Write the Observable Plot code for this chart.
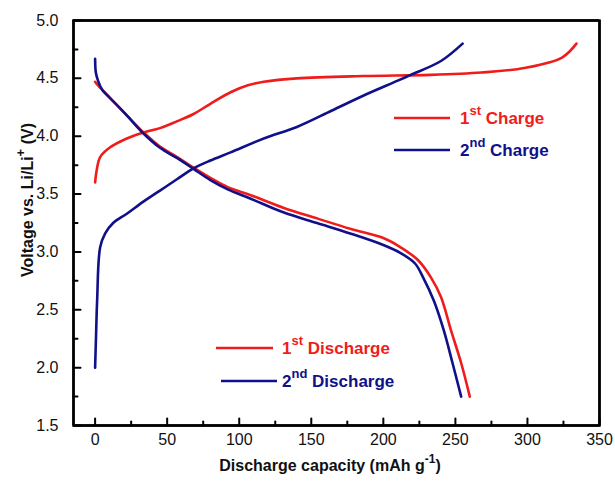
<!DOCTYPE html>
<html>
<head>
<meta charset="utf-8">
<script src="https://cdn.jsdelivr.net/npm/d3@7"></script>
<script src="https://cdn.jsdelivr.net/npm/@observablehq/plot@0.6"></script>
<style>
  html, body { margin: 0; padding: 0; background: #fff; }
  #wrap { position: relative; width: 615px; height: 483px; }
  #overlay { position: absolute; left: 0; top: 0; pointer-events: none; }
</style>
</head>
<body>
<div id="wrap"><div id="chart"></div></div>
<script>
// ---- data ----
const charge1X = [0, 1, 3.5, 10, 22, 33, 45, 57, 68, 80, 94, 106, 117, 140, 186, 233, 268, 298, 324, 334];
const charge1Y = [3.6, 3.7, 3.82, 3.90, 3.98, 4.03, 4.07, 4.13, 4.19, 4.28, 4.38, 4.44, 4.47, 4.50, 4.52, 4.53, 4.55, 4.59, 4.68, 4.80];

const charge2X = [0, 0.7, 1.4, 3.5, 7, 12.5, 22, 33, 45, 57, 68, 80, 94, 117, 140, 164, 186, 210, 219, 240, 255];
const charge2Y = [2.0, 2.3, 2.58, 3.04, 3.16, 3.25, 3.33, 3.43, 3.53, 3.63, 3.72, 3.79, 3.86, 3.98, 4.08, 4.22, 4.35, 4.48, 4.53, 4.65, 4.80];

const discharge1X = [0, 2, 5, 10.4, 22, 33, 45, 57, 68, 80, 92, 108, 131, 154, 177, 200, 212, 224, 233, 240, 247, 254, 260];
const discharge1Y = [4.47, 4.44, 4.40, 4.33, 4.18, 4.04, 3.91, 3.82, 3.73, 3.64, 3.56, 3.49, 3.38, 3.29, 3.20, 3.12, 3.04, 2.93, 2.78, 2.61, 2.32, 2.04, 1.75];

const discharge2X = [0, 0.5, 2, 5, 10.4, 22, 33, 45, 57, 68, 80, 92, 108, 131, 154, 177, 200, 212, 222, 228, 235, 242, 248, 254];
const discharge2Y = [4.67, 4.55, 4.48, 4.40, 4.33, 4.18, 4.03, 3.90, 3.81, 3.72, 3.62, 3.54, 3.46, 3.34, 3.25, 3.16, 3.06, 2.99, 2.90, 2.77, 2.58, 2.32, 2.04, 1.75];

const xDomain = [-15, 350];
const yDomain = [1.5, 5];
const xMajorTicks = [0, 50, 100, 150, 200, 250, 300, 350];
const xMinorTicks = [25, 75, 125, 175, 225, 275, 325];
const yMajorTicks = [1.5, 2.0, 2.5, 3.0, 3.5, 4.0, 4.5, 5.0];
const yMinorTicks = [1.75, 2.25, 2.75, 3.25, 3.75, 4.25, 4.75];

const legendNums = ["1", "2", "1", "2"];
const legendSups = ["st", "nd", "st", "nd"];
const legendWords = ["Charge", "Charge", "Discharge", "Discharge"];

const RED = "#f01c1c";
const NAVY = "#10108a";
const legendColors = [RED, NAVY, RED, NAVY];
const FONT = "Arial, 'Liberation Sans', sans-serif";

const toRows = (xs, ys) => xs.map((x, i) => ({x, y: ys[i]}));
const series = [
  {rows: toRows(charge1X, charge1Y), color: RED},
  {rows: toRows(discharge1X, discharge1Y), color: RED},
  {rows: toRows(charge2X, charge2Y), color: NAVY},
  {rows: toRows(discharge2X, discharge2Y), color: NAVY}
];

// a plain line shape for inward tick vectors
const tickShape = {draw(context, l) { context.moveTo(0, 0); context.lineTo(0, -l); }};

const plot = Plot.plot({
  width: 615,
  height: 483,
  marginLeft: 73,
  marginRight: 16,
  marginTop: 20,
  marginBottom: 58,
  x: {domain: xDomain},
  y: {domain: yDomain},
  marks: [
    ...series.map(s => Plot.line(s.rows, {x: "x", y: "y", stroke: s.color, strokeWidth: 2.6, curve: "catmull-rom"})),
    // tick labels
    Plot.axisX({ticks: xMajorTicks, tickSize: 0, tickPadding: 8, label: null, fontSize: 16, fontFamily: FONT, fill: "#111", tickFormat: d => String(d)}),
    Plot.axisY({ticks: yMajorTicks, tickSize: 0, tickPadding: 15, label: null, fontSize: 16, fontFamily: FONT, fill: "#111", tickFormat: d3.format(".1f")}),
    // inward ticks
    Plot.vector(xMajorTicks, {x: d => d, y: yDomain[0], length: 7, rotate: 0, anchor: "start", shape: tickShape, stroke: "#000", strokeWidth: 2}),
    Plot.vector(xMinorTicks, {x: d => d, y: yDomain[0], length: 4, rotate: 0, anchor: "start", shape: tickShape, stroke: "#000", strokeWidth: 2}),
    Plot.vector(yMajorTicks, {x: xDomain[0], y: d => d, length: 7, rotate: 90, anchor: "start", shape: tickShape, stroke: "#000", strokeWidth: 2}),
    Plot.vector(yMinorTicks, {x: xDomain[0], y: d => d, length: 4, rotate: 90, anchor: "start", shape: tickShape, stroke: "#000", strokeWidth: 2}),
    // box
    Plot.ruleX(xDomain, {stroke: "#000", strokeWidth: 2.4}),
    Plot.ruleY(yDomain, {stroke: "#000", strokeWidth: 2.4}),
    Plot.frame({stroke: "#000", strokeWidth: 2.4})
  ]
});

document.getElementById("chart").appendChild(plot);

// ---- titles and legends in a separate overlay SVG (text with superscripts) ----
const overlaySvg = d3.select("#wrap").append("svg")
  .attr("id", "overlay")
  .attr("width", 615).attr("height", 483)
  .attr("font-family", FONT).attr("font-weight", "bold");

const xt = overlaySvg.append("text")
  .attr("x", 330).attr("y", 471).attr("text-anchor", "middle")
  .attr("font-size", 16).attr("fill", "#111");
xt.append("tspan").text("Discharge capacity (mAh g");
xt.append("tspan").attr("dy", -8).attr("font-size", 12).text("-1");
xt.append("tspan").attr("dy", 8).text(")");

const yt = overlaySvg.append("text")
  .attr("transform", "translate(33,200) rotate(-90)").attr("text-anchor", "middle")
  .attr("font-size", 16).attr("fill", "#111");
yt.append("tspan").text("Voltage vs. Li/Li");
yt.append("tspan").attr("dy", -8).attr("font-size", 13).text("+");
yt.append("tspan").attr("dy", 8).text(" (V)");

const legendPos = [
  {x1: 394, x2: 450, y: 118, tx: 460},
  {x1: 394, x2: 450, y: 150, tx: 460},
  {x1: 216, x2: 273, y: 348, tx: 282},
  {x1: 221, x2: 277, y: 381, tx: 282}
];
legendPos.forEach((p, i) => {
  overlaySvg.append("path").attr("d", `M${p.x1},${p.y}H${p.x2}`)
    .attr("stroke", legendColors[i]).attr("stroke-width", 2.6).attr("fill", "none");
  const t = overlaySvg.append("text").attr("x", p.tx).attr("y", p.y + 6)
    .attr("text-anchor", "start").attr("font-size", 17).attr("fill", legendColors[i]);
  t.append("tspan").text(legendNums[i]);
  t.append("tspan").attr("dy", -9).attr("font-size", 13).text(legendSups[i]);
  t.append("tspan").attr("dy", 9).text(" " + legendWords[i]);
});
</script>
</body>
</html>
